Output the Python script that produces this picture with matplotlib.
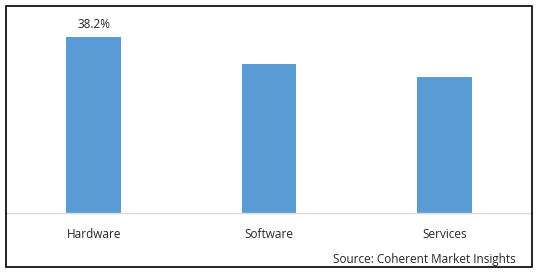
import matplotlib
matplotlib.use("Agg")
import matplotlib.pyplot as plt
from matplotlib.patches import Rectangle

categories = ["Hardware", "Software", "Services"]
values = [38.2, 32.3, 29.5]
labels = ["38.2%", "", ""]

plt.rcParams['font.family'] = ['Open Sans', 'DejaVu Sans']

W, H = 538, 272
fig = plt.figure(figsize=(W/100, H/100), dpi=100)
fig.patch.set_facecolor("white")

ax = fig.add_axes([6/W, (H-213)/H, 526/W, 207/H])
x = range(len(categories))
bars = ax.bar(x, values, width=0.31, color="#5B9BD5", zorder=2)
ax.set_xlim(-0.5, 2.5)
ax.set_ylim(0, 38.2*207/176)
for b, lab in zip(bars, labels):
    if lab:
        ax.annotate(lab, (b.get_x()+b.get_width()/2, b.get_height()),
                    xytext=(0, 4), textcoords="offset points",
                    ha="center", va="bottom", fontsize=8.5, color="#262626")
ax.set_xticks(list(x))
ax.set_xticklabels(categories, fontsize=8.5, color="#262626")
ax.tick_params(axis="x", length=0, pad=11)
ax.set_yticks([])
for s in ["top", "left", "right"]:
    ax.spines[s].set_visible(False)
ax.spines["bottom"].set_color("#D9D9D9")
ax.spines["bottom"].set_linewidth(1.0)

fig.text(516/W, 1-259/H, "Source: Coherent Market Insights", ha="right", va="center",
         fontsize=8.5, color="#262626")

fig.patches.append(Rectangle((6/W, 1-267/H), 526/W, 261/H, transform=fig.transFigure,
                             fill=False, edgecolor="black", linewidth=1.2, figure=fig))

fig.savefig("out.png", dpi=100, facecolor="white")
